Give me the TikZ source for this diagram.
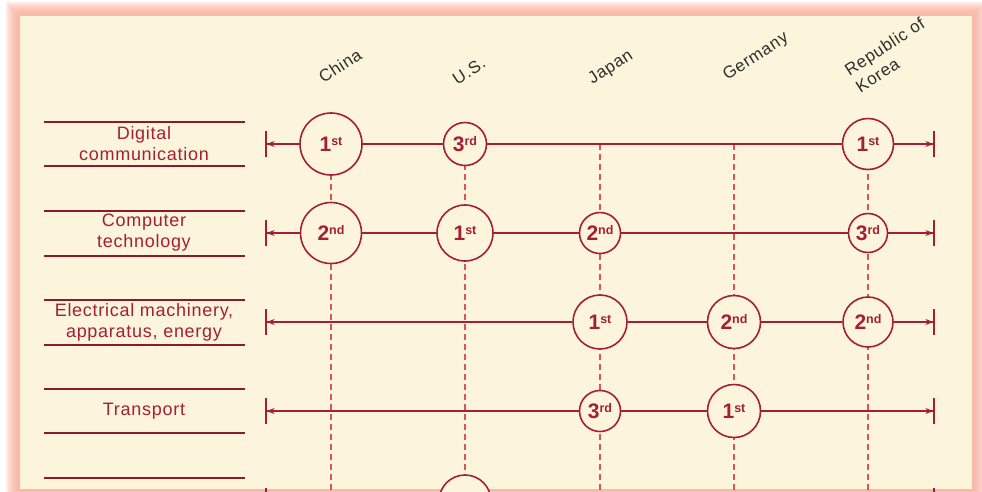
\documentclass[tikz,border=0pt]{standalone}
\usepackage{fontspec}
\setmainfont{Liberation Sans}
\newfontfamily\weit[LetterSpace=4]{Liberation Sans}
\usepackage{tikz}
\usetikzlibrary{arrows.meta}
\definecolor{creme}{HTML}{FDF5DB}
\definecolor{lachs}{HTML}{F9AE9B}
\definecolor{dunkelrot}{HTML}{A41F35}
\definecolor{strichrot}{HTML}{D9535E}
\definecolor{linienrot}{HTML}{8C1A2A}
\definecolor{schrift}{HTML}{2E2E2E}
\newcommand{\platz}[2]{{\fontsize{21}{21}\selectfont\bfseries #1}{\fontsize{12.5}{12.5}\selectfont\bfseries\raisebox{6pt}{#2}}}
\tikzset{
	rang/.style={circle,draw=dunkelrot,line width=1.6pt,fill=creme,text=dunkelrot,inner sep=0pt,minimum size=#1},
	zeile/.style={draw=dunkelrot,line width=1.6pt},
	pfeil/.style={zeile,-{Stealth[length=8pt,width=6pt]Bar[width=26pt]}},
	strich/.style={draw=strichrot,line width=1.2pt,dash pattern=on 6pt off 4pt},
	trenn/.style={draw=linienrot,line width=2pt},
	etikett/.style={text=dunkelrot,align=center,font=\weit\fontsize{18}{21}\selectfont},
	land/.style={text=schrift,rotate=33,font=\weit\fontsize{17}{20}\selectfont}
}

\begin{document}
\begin{tikzpicture}[x=1pt,y=-1pt]
	\useasboundingbox (0,0) rectangle (982,491);
	% Rahmen mit Schein
	\fill[white] (0,0) rectangle (982,491);
	\foreach \r in {14,12,...,2}
	\fill[lachs,opacity=0.24] ({20-\r},{16-\r}) rectangle ({972+\r},{489+\r});
	\fill[creme] (20,16) rectangle (972,489);
	% Spalten (gestrichelt)
	\foreach \n/\x in {cn/331,us/465,jp/600,de/734,kr/868}{
		\coordinate (\n-o) at (\x,144);
		\coordinate (\n-u) at (\x,491);
		\draw[strich] (\n-o) -- (\n-u);
	}
	\foreach \i/\y in {1/144,2/233,3/322,4/411,5/501}{
		\coordinate (lb\i) at (265,\y);
		\coordinate (rb\i) at (935,\y);
	}
	% Laender
	\node[land] (h-cn) at (340,66) {China};
	\node[land] (h-us) at (469,71) {U.S.};
	\node[land] (h-jp) at (611,68) {Japan};
	\node[land] (h-de) at (756,57) {Germany};
	\node[land,align=left] (h-kr) at (890,55) {Republic of\\Korea};
	% Gebiete
	\foreach \y in {122,166,211,256,300,345,389,433,478}
	\draw[trenn] (44,\y) -- (245,\y);
	\node[etikett] (t1) at (144,144) {Digital\\communication};
	\node[etikett] (t2) at (144,233) {Computer\\technology};
	\node[etikett] (t3) at (144,322) {Electrical machinery,\\apparatus, energy};
	\node[etikett] (t4) at (144,411) {Transport};
	% Raenge
	\node[rang=62] (dc-cn) at (331,144) {\platz{1}{st}};
	\node[rang=43] (dc-us) at (465,144) {\platz{3}{rd}};
	\node[rang=51] (dc-kr) at (868,144) {\platz{1}{st}};
	\node[rang=61] (ct-cn) at (331,233) {\platz{2}{nd}};
	\node[rang=56] (ct-us) at (465,233) {\platz{1}{st}};
	\node[rang=41] (ct-jp) at (600,233) {\platz{2}{nd}};
	\node[rang=39] (ct-kr) at (868,233) {\platz{3}{rd}};
	\node[rang=54] (em-jp) at (600,322) {\platz{1}{st}};
	\node[rang=53] (em-de) at (734,322) {\platz{2}{nd}};
	\node[rang=50] (em-kr) at (868,322) {\platz{2}{nd}};
	\node[rang=41] (tr-jp) at (600,411) {\platz{3}{rd}};
	\node[rang=53] (tr-de) at (734,411) {\platz{1}{st}};
	\node[rang=52] (x-us) at (465,501) {};
	% Zeilen
	\draw[pfeil] (dc-cn) -- (lb1);
	\draw[zeile] (dc-cn) -- (dc-us) -- (dc-kr);
	\draw[pfeil] (dc-kr) -- (rb1);
	\draw[pfeil] (ct-cn) -- (lb2);
	\draw[zeile] (ct-cn) -- (ct-us) -- (ct-jp) -- (ct-kr);
	\draw[pfeil] (ct-kr) -- (rb2);
	\draw[pfeil] (em-jp) -- (lb3);
	\draw[zeile] (em-jp) -- (em-de) -- (em-kr);
	\draw[pfeil] (em-kr) -- (rb3);
	\draw[pfeil] (tr-jp) -- (lb4);
	\draw[zeile] (tr-jp) -- (tr-de);
	\draw[pfeil] (tr-de) -- (rb4);
	\draw[pfeil] (x-us) -- (lb5);
	\draw[pfeil] (x-us) -- (rb5);
\end{tikzpicture}
\end{document}
